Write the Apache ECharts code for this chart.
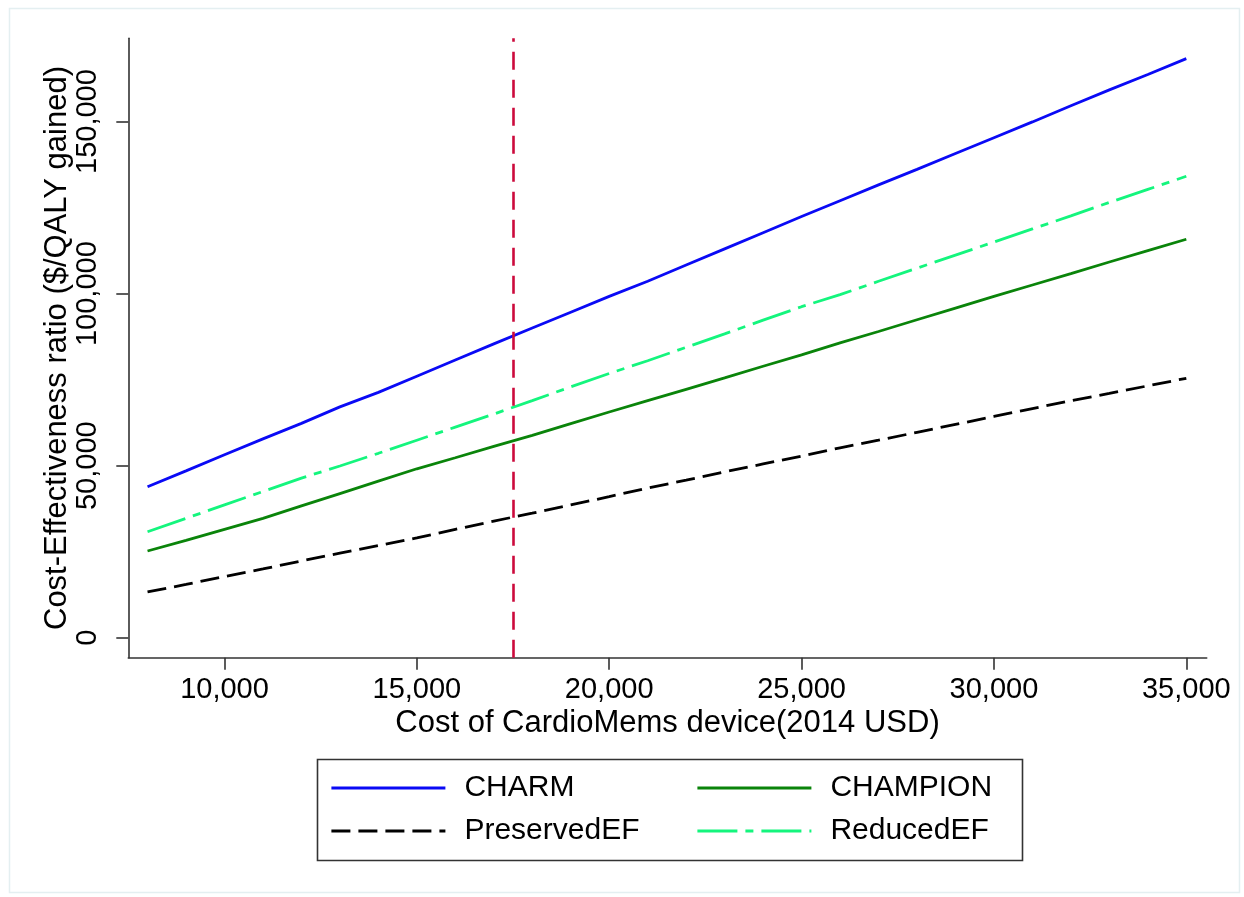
<!DOCTYPE html>
<html>
<head>
<meta charset="utf-8">
<title>Cost-effectiveness ratio vs. CardioMems device cost</title>
<script src="https://cdn.jsdelivr.net/npm/echarts@6/dist/echarts.min.js"></script>
<style>
  html, body { margin: 0; padding: 0; background: #ffffff; }
  #chart { width: 1244px; height: 897px; }
</style>
</head>
<body>
<div id="chart"></div>
<script>
// Device cost (2014 USD) at which each ratio was evaluated
const costs = [8000, 9000, 10000, 11000, 12000, 13000, 14000, 15000, 16000, 17000,
  18000, 19000, 20000, 21000, 22000, 23000, 24000, 25000, 26000, 27000,
  28000, 29000, 30000, 31000, 32000, 33000, 34000, 35000];

// Cost-effectiveness ratio ($/QALY gained) for each scenario
const charm = [43900, 48500, 53200, 57800, 62300, 67100, 71300, 76000, 80700, 85400,
  90000, 94600, 99200, 103600, 108300, 113000, 117700, 122400, 127000, 131600,
  136100, 140700, 145300, 149900, 154600, 159200, 163700, 168300];
const champion = [25200, 28300, 31500, 34700, 38300, 41900, 45500, 49100, 52300, 55600,
  58800, 62200, 65600, 68900, 72200, 75500, 78900, 82200, 85700, 89000,
  92400, 95800, 99200, 102500, 105800, 109200, 112500, 115800];
const preservedEF = [13300, 15500, 17800, 20000, 22300, 24600, 26800, 29000, 31500, 33900,
  36200, 38600, 41000, 43500, 45800, 48200, 50500, 52800, 55200, 57400,
  59700, 62000, 64300, 66600, 68900, 71000, 73200, 75400];
const reducedEF = [30800, 34700, 38600, 42500, 46400, 49900, 53600, 57400, 61200, 65000,
  68900, 72900, 76800, 80500, 84400, 88300, 92300, 96200, 99700, 103600,
  107400, 111200, 115000, 118800, 122600, 126500, 130300, 134100];

// Reference device price
const referenceCost = 17500;

// Tick values
const xTicks = [10000, 15000, 20000, 25000, 30000, 35000];
const yTicks = [0, 50000, 100000, 150000];

const FONT = '"Liberation Sans", Arial, Helvetica, sans-serif';
const fmt = v => v.toLocaleString('en-US');
const pairs = ys => costs.map((c, i) => [c, ys[i]]);

const chart = echarts.init(document.getElementById('chart'), null, { renderer: 'canvas' });

const lineSeries = (name, ys, color, type) => ({
  name: name,
  type: 'line',
  data: pairs(ys),
  symbol: 'none',
  smooth: false,
  itemStyle: { color: color },
  lineStyle: { color: color, width: 2.8, type: type, cap: 'butt' },
  emphasis: { disabled: true },
  z: 3
});

const charmSeries = lineSeries('CHARM', charm, '#0a0af5', 'solid');
charmSeries.markLine = {
  silent: true,
  symbol: 'none',
  label: { show: false },
  lineStyle: { color: '#cc0a3c', width: 2.6, type: [18, 10] },
  data: [{ xAxis: referenceCost }]
};

const legendBase = {
  orient: 'vertical',
  top: 768,
  itemWidth: 114,
  itemHeight: 30,
  itemGap: 13,
  selectedMode: false,
  itemStyle: { opacity: 0 },
  lineStyle: { width: 2.8 },
  textStyle: { fontSize: 30, color: '#000', fontFamily: FONT, lineHeight: 30, padding: [0, 0, 0, 14] }
};

const option = {
  animation: false,
  backgroundColor: '#ffffff',
  textStyle: { fontFamily: FONT, color: '#000' },
  grid: { left: 128.3, right: 37.3, top: 38.3, bottom: 239.3, containLabel: false },
  xAxis: {
    type: 'value',
    min: 7500,
    max: 35530,
    name: 'Cost of CardioMems device(2014 USD)',
    nameLocation: 'middle',
    nameGap: 50,
    nameMoveOverlap: false,
    nameTextStyle: { fontSize: 31, color: '#000', fontFamily: FONT },
    axisLine: { show: true, onZero: false, lineStyle: { color: '#333', width: 1.6 } },
    axisTick: { show: true, length: 12, lineStyle: { color: '#333', width: 1.6 }, customValues: xTicks },
    axisLabel: { fontSize: 29, color: '#000', margin: 18, fontFamily: FONT, formatter: fmt, customValues: xTicks },
    splitLine: { show: false }
  },
  yAxis: {
    type: 'value',
    min: -5800,
    max: 174200,
    name: 'Cost-Effectiveness ratio ($/QALY gained)',
    nameLocation: 'middle',
    nameGap: 55,
    nameMoveOverlap: false,
    nameRotate: 90,
    nameTextStyle: { fontSize: 31, color: '#000', fontFamily: FONT },
    axisLine: { show: true, onZero: false, lineStyle: { color: '#333', width: 1.6 } },
    axisTick: { show: true, length: 12, lineStyle: { color: '#333', width: 1.6 }, customValues: yTicks },
    axisLabel: { fontSize: 29, color: '#000', margin: 26, rotate: 90, fontFamily: FONT, formatter: fmt, customValues: yTicks },
    splitLine: { show: false }
  },
  legend: [
    Object.assign({}, legendBase, { data: ['CHARM', 'PreservedEF'], left: 325 }),
    Object.assign({}, legendBase, { data: ['CHAMPION', 'ReducedEF'], left: 691 })
  ],
  graphic: [
    {
      type: 'rect',
      left: 7, top: 6,
      shape: { width: 1230, height: 884 },
      style: { fill: 'none', stroke: '#e4eff1', lineWidth: 1.5 },
      silent: true, z: -10
    },
    {
      type: 'rect',
      left: 315, top: 757,
      shape: { width: 705, height: 101 },
      style: { fill: 'none', stroke: '#333', lineWidth: 1.6 },
      silent: true
    }
  ],
  series: [
    charmSeries,
    lineSeries('CHAMPION', champion, '#0a840a', 'solid'),
    lineSeries('PreservedEF', preservedEF, '#000000', [19, 8]),
    lineSeries('ReducedEF', reducedEF, '#14f57d', [40, 8, 8, 8])
  ]
};

chart.setOption(option);
</script>
</body>
</html>
